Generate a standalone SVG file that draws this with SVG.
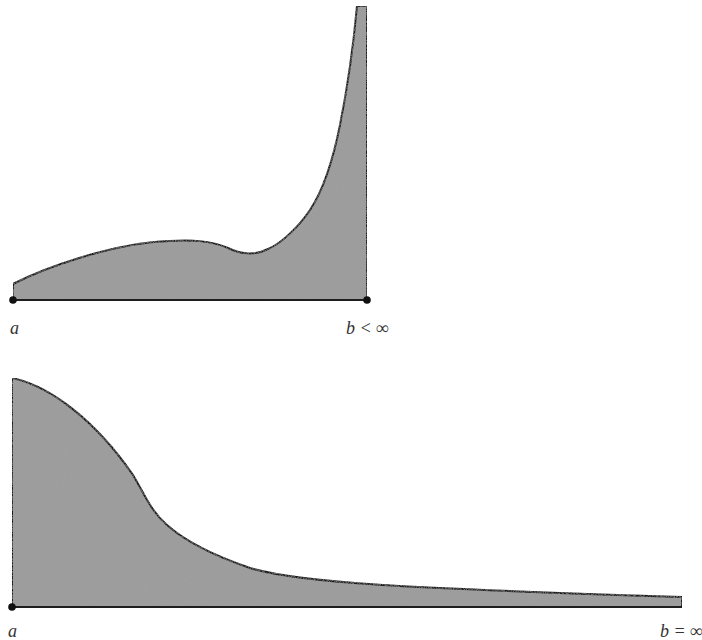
<svg xmlns="http://www.w3.org/2000/svg" width="702" height="640" viewBox="0 0 702 640">
<style>
.area{fill:#9d9d9d;stroke:#1e1e1e;stroke-width:2;stroke-linejoin:round}
.base{stroke:#1e1e1e;stroke-width:2.2;fill:none}
.dot{fill:#111}
.lbl{font-family:"Liberation Serif","DejaVu Serif",serif;font-style:italic;font-size:18px;fill:#333}
</style>
<defs>
<filter id="grain" x="0" y="0" width="100%" height="100%">
<feTurbulence type="fractalNoise" baseFrequency="0.9" numOctaves="2" seed="3" result="n"/>
<feColorMatrix in="n" type="matrix" values="0 0 0 0 0.35  0 0 0 0 0.35  0 0 0 0 0.35  0 0 0 1.2 -0.45" result="g"/>
<feComposite in="g" in2="SourceGraphic" operator="in" result="gi"/>
<feMerge><feMergeNode in="SourceGraphic"/><feMergeNode in="gi"/></feMerge>
</filter>
</defs>
<g id="top-graph">
<path class="area" filter="url(#grain)" d="M13,300 L13,284 C40,270 110,243 170,241 C190,240 210,240 228,248 C240,254 255,256 268,249 C280,244 298,228 310,210 C322,192 333,160 340,125 C346,95 353,50 357,6 L367,6 L367,300 Z"/>
<line class="base" x1="13" y1="300" x2="367" y2="300"/>
<circle class="dot" cx="13" cy="300" r="3.8"/>
<circle class="dot" cx="367" cy="300" r="3.8"/>
<text class="lbl" x="10" y="334">a</text>
<text class="lbl" x="346" y="334">b &lt; ∞</text>
</g>
<g id="bottom-graph">
<path class="area" filter="url(#grain)" d="M12,607 L12,378 C50,386 95,420 133,475 C145,495 150,510 167,525 C185,541 215,556 250,568 C300,583 400,588 682,597 L682,607 Z"/>
<line class="base" x1="12" y1="607" x2="682" y2="607"/>
<circle class="dot" cx="12" cy="607" r="3.8"/>
<text class="lbl" x="8" y="637">a</text>
<text class="lbl" x="660" y="637">b = ∞</text>
</g>
</svg>
